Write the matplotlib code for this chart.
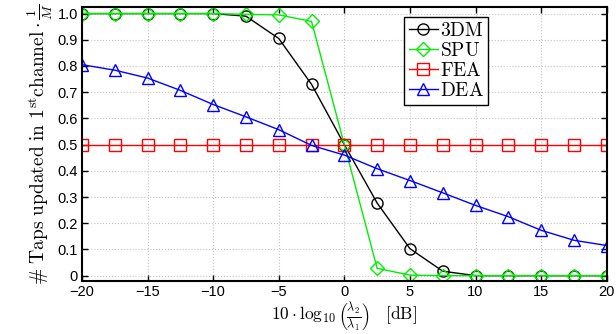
import matplotlib
matplotlib.use("Agg")
import matplotlib.pyplot as plt

plt.rcParams["mathtext.fontset"] = "cm"
plt.rcParams["font.family"] = ["Liberation Sans", "DejaVu Sans"]

snr_db = [-20, -17.5, -15, -12.5, -10, -7.5, -5, -2.5, 0, 2.5, 5, 7.5, 10, 12.5, 15, 17.5, 20]
y_3dm = [1, 1, 1, 1, 1, 0.99, 0.905, 0.73, 0.5, 0.277, 0.103, 0.017, 0, 0, 0, 0, 0]
y_spu = [1, 1, 1, 1, 1, 0.997, 0.995, 0.97, 0.5, 0.028, 0.002, 0, 0, 0, 0, 0, 0]
y_fea = [0.5] * 17
y_dea = [0.805, 0.784, 0.754, 0.707, 0.653, 0.606, 0.557, 0.497, 0.46, 0.408,
         0.363, 0.316, 0.268, 0.225, 0.173, 0.135, 0.115]

fig = plt.figure(figsize=(6.16, 3.34), dpi=100)
ax = fig.add_axes([0.133, 0.159, 0.852, 0.82])

style = dict(linewidth=1.0, markersize=8, markerfacecolor="none", markeredgewidth=1.0)
ax.plot(snr_db, y_3dm, color="black", marker="o", label=r"$\mathrm{3DM}$", **style)
ax.plot(snr_db, y_spu, color="#00ee00", marker="D", label=r"$\mathrm{SPU}$",
        linewidth=1.0, markersize=7, markerfacecolor="none", markeredgewidth=1.0)
ax.plot(snr_db, y_fea, color="red", marker="s", label=r"$\mathrm{FEA}$", **style)
ax.plot(snr_db, y_dea, color="blue", marker="^", label=r"$\mathrm{DEA}$",
        linewidth=1.0, markersize=9, markerfacecolor="none", markeredgewidth=1.0)

ax.set_xlim(-20, 20)
ax.set_ylim(-0.02, 1.025)
ax.set_xticks(range(-20, 21, 5))
ax.set_yticks([i / 10 for i in range(11)])
ax.set_yticklabels(["0"] + [f"{i / 10:.1f}" for i in range(1, 11)])
ax.tick_params(direction="in", top=True, right=True, labelsize=10.5, length=4, width=1, pad=3)
ax.grid(True, linestyle=":", color="#c4c4c4", linewidth=0.8)
for s in ax.spines.values():
    s.set_linewidth(1.5)

ax.set_xlabel(r"$10\cdot\log_{10}\left(\frac{\lambda_2}{\lambda_1}\right)\quad[\mathrm{dB}]$", fontsize=12.5, labelpad=1)
ax.set_ylabel(r"$\#\ \mathrm{Taps\ updated\ in\ 1^{st}channel}\cdot\frac{1}{M}$", fontsize=14, labelpad=2)

leg = ax.legend(loc="upper left", bbox_to_anchor=(0.613, 0.963), fontsize=14, fancybox=False,
                edgecolor="black", framealpha=1, handlelength=1.5, handletextpad=0.1,
                borderpad=0.25, labelspacing=0.1, borderaxespad=0)
leg.get_frame().set_linewidth(1.0)

fig.savefig("out.png", dpi=100)
